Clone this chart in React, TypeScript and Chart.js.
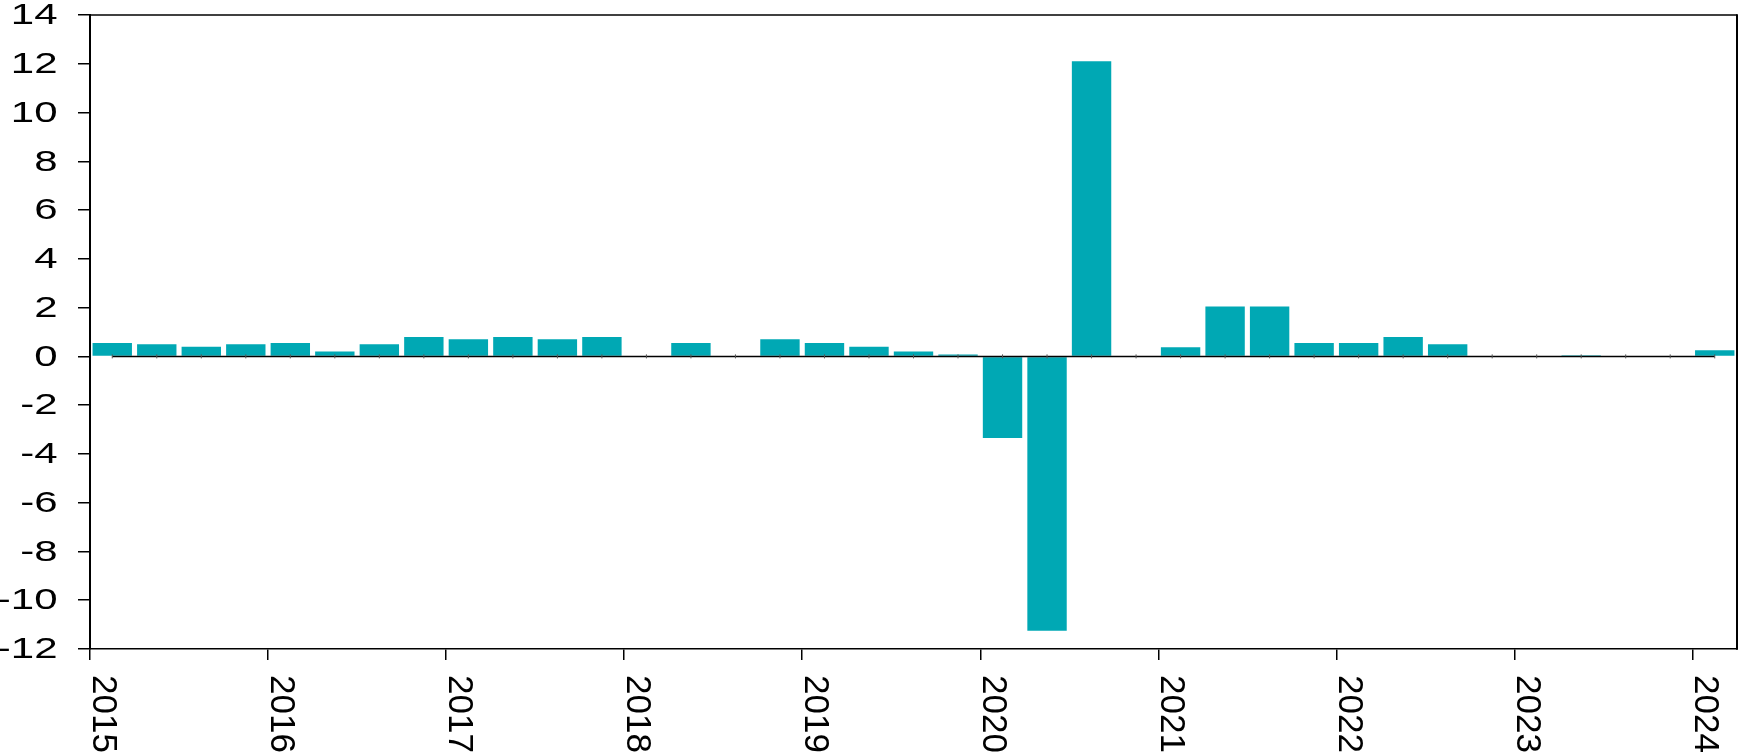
import React, { useEffect, useRef } from 'react';
import { Chart, registerables } from 'chart.js';

Chart.register(...registerables);

const categories = [
  '2015Q1', '2015Q2', '2015Q3', '2015Q4',
  '2016Q1', '2016Q2', '2016Q3', '2016Q4',
  '2017Q1', '2017Q2', '2017Q3', '2017Q4',
  '2018Q1', '2018Q2', '2018Q3', '2018Q4',
  '2019Q1', '2019Q2', '2019Q3', '2019Q4',
  '2020Q1', '2020Q2', '2020Q3', '2020Q4',
  '2021Q1', '2021Q2', '2021Q3', '2021Q4',
  '2022Q1', '2022Q2', '2022Q3', '2022Q4',
  '2023Q1', '2023Q2', '2023Q3', '2023Q4',
  '2024Q1',
];

const yearLabels = ['2015', '2016', '2017', '2018', '2019', '2020', '2021', '2022', '2023', '2024'];

const values = [
  0.55, 0.5, 0.4, 0.5,
  0.55, 0.2, 0.5, 0.8,
  0.7, 0.8, 0.7, 0.8,
  0, 0.55, 0, 0.7,
  0.55, 0.4, 0.2, 0.08,
  -3.35, -11.25, 12.1, 0,
  0.37, 2.05, 2.05, 0.55,
  0.55, 0.8, 0.5, 0,
  0, 0.05, 0, 0,
  0.25,
];

const baseline = [
  0, 0, 0, 0, 0, 0, 0, 0, 0, 0, 0, 0, 0, 0, 0, 0, 0, 0, 0, 0,
  0, 0, 0, 0, 0, 0, 0, 0, 0, 0, 0, 0, 0, 0, 0, 0, 0,
];

const yTicks = [-12, -10, -8, -6, -4, -2, 0, 2, 4, 6, 8, 10, 12, 14];

const labelPlugin = {
  id: 'customLabels',
  afterDraw(chart: any) {
    const { ctx, chartArea, scales } = chart;
    const xs = scales.x;
    const ys = scales.y;
    ctx.save();
    // frame: top and right
    ctx.strokeStyle = '#000';
    ctx.lineWidth = 1.5;
    ctx.beginPath();
    ctx.moveTo(chartArea.left, chartArea.top);
    ctx.lineTo(chartArea.right, chartArea.top);
    ctx.stroke();
    ctx.lineWidth = 2;
    ctx.beginPath();
    ctx.moveTo(chartArea.right, chartArea.top - 0.75);
    ctx.lineTo(chartArea.right, chartArea.bottom + 0.75);
    ctx.stroke();

    // y labels (horizontally stretched like the reference)
    ctx.fillStyle = '#000';
    ctx.font = '30px "Liberation Sans", Arial, sans-serif';
    ctx.textAlign = 'right';
    ctx.textBaseline = 'middle';
    yTicks.forEach((v) => {
      const py = ys.getPixelForValue(v);
      ctx.save();
      ctx.translate(chartArea.left - 32.5, py + 1);
      ctx.scale(1.4, 1);
      ctx.fillText(String(v), 0, 0);
      ctx.restore();
    });

    // x labels, rotated clockwise, at year boundaries
    const cw = xs.getPixelForValue(1) - xs.getPixelForValue(0);
    ctx.font = '35px "Liberation Sans", Arial, sans-serif';
    ctx.textAlign = 'left';
    ctx.textBaseline = 'alphabetic';
    categories.forEach((c, i) => {
      if (!c.endsWith('Q1')) return;
      const px = xs.getPixelForValue(i) - cw / 2;
      ctx.save();
      ctx.translate(px + 2.5, chartArea.bottom + 26);
      ctx.rotate(Math.PI / 2);
      ctx.fillText(yearLabels[Math.floor(i / 4)], 0, 0);
      ctx.restore();
    });
    ctx.restore();
  },
};

export default function App() {
  const ref = useRef<HTMLCanvasElement>(null);

  useEffect(() => {
    if (!ref.current) return;
    const chart = new Chart(ref.current, {
      type: 'bar',
      data: {
        labels: categories,
        datasets: [
          {
            type: 'line',
            data: baseline,
            borderColor: '#000',
            borderWidth: 1.5,
            pointStyle: 'line',
            rotation: 90,
            pointRadius: 2,
            pointBorderColor: '#555',
            pointBorderWidth: 1,
            order: 1,
          } as any,
          {
            type: 'bar',
            data: values,
            backgroundColor: '#00A8B4',
            barPercentage: 0.885,
            categoryPercentage: 1,
            order: 2,
          },
        ],
      },
      options: {
        animation: false,
        responsive: false,
        devicePixelRatio: 1,
        layout: { padding: { left: 78, right: 22, top: 15, bottom: 94 } },
        plugins: {
          legend: { display: false },
          tooltip: { enabled: false },
        },
        scales: {
          x: {
            type: 'category',
            offset: true,
            grid: {
              offset: true,
              drawOnChartArea: false,
              drawTicks: true,
              tickLength: 11,
              lineWidth: 1.5,
              color: (c: any) => (typeof c.index === 'number' && c.index % 4 === 0 ? '#000' : 'rgba(0,0,0,0)'),
            },
            border: { display: true, color: '#000', width: 1.5 },
            ticks: { display: false, autoSkip: false },
          },
          y: {
            min: -12,
            max: 14,
            grid: {
              drawOnChartArea: false,
              drawTicks: true,
              tickLength: 12,
              lineWidth: 1.5,
              color: '#000',
            },
            border: { display: true, color: '#000', width: 2 },
            ticks: { display: false, stepSize: 2 },
          },
        },
      },
      plugins: [labelPlugin],
    });
    return () => chart.destroy();
  }, []);

  return (
    <canvas
      ref={ref}
      width={1759}
      height={754}
      style={{ position: 'absolute', left: 0, top: 0, display: 'block', width: 1759, height: 754 }}
    />
  );
}
